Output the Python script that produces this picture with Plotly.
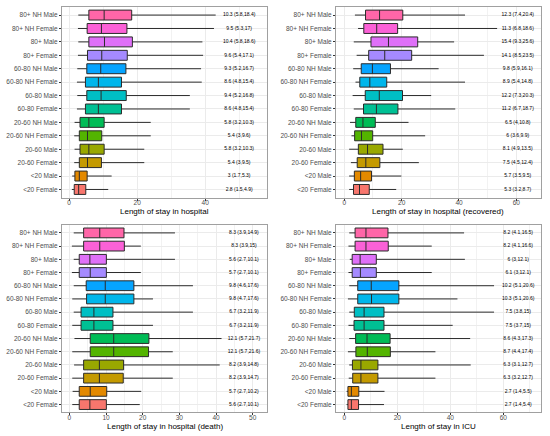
import plotly.graph_objects as go

# categories, bottom to top
groups = ["<20 Female", "<20 Male", "20-60 Female", "20-60 Male",
          "20-60 NH Female", "20-60 NH Male", "60-80 Female", "60-80 Male",
          "60-80 NH Female", "60-80 NH Male", "80+ Female", "80+ Male",
          "80+ NH Female", "80+ NH Male"]
colors = ["#F8766D", "#E38900", "#C49A00", "#99A800", "#53B400", "#00BC56",
          "#00C094", "#00BFC4", "#00B6EB", "#06A4FF", "#A58AFF", "#DF70F8",
          "#FB61D7", "#FF66A8"]

# length of stay in hospital
hosp_med = [2.8, 3, 5.4, 5.8, 5.4, 5.8, 8.6, 9.4, 8.6, 9.3, 9.6, 10.4, 9.5, 10.3]
hosp_q1 = [1.5, 1.7, 3, 3.2, 3, 3.2, 4.8, 5.2, 4.8, 5.2, 5.4, 5.8, 5.3, 5.8]
hosp_q3 = [4.9, 5.3, 9.5, 10.3, 9.6, 10.3, 15.4, 16.8, 15.4, 16.7, 17.1, 18.6, 17, 18.4]
hosp_lo = [0.8, 0.9, 1.5, 1.6, 1.5, 1.6, 2.3, 2.4, 2.3, 2.4, 2.6, 2.7, 2.6, 2.7]
hosp_hi = [11.5, 12.5, 22.1, 22.1, 24, 24, 35.5, 35.5, 39, 38.8, 39.4, 39.2, 42.6, 43.1]

# length of stay in hospital (recovered)
rec_med = [5.3, 5.7, 7.5, 8.1, 6, 6.5, 11.2, 12.2, 8.9, 9.8, 14.1, 15.4, 11.3, 12.3]
rec_q1 = [3.2, 3.5, 4.5, 4.9, 3.6, 4, 6.7, 7.3, 5.4, 5.9, 8.5, 9.3, 6.8, 7.4]
rec_q3 = [8.7, 9.5, 12.4, 13.5, 9.9, 10.8, 18.7, 20.3, 14.8, 16.1, 23.5, 25.6, 18.6, 20.4]
rec_lo = [1.7, 1.7, 2.3, 1.7, 2.5, 2.0, 3.3, 2.9, 3.9, 3.1, 4.3, 3.3, 4.8, 3.7]
rec_hi = [18.1, 19.9, 26, 20.4, 28.2, 22.4, 38.7, 30.3, 42.1, 32.9, 48.7, 38.3, 53.3, 42.1]

# length of stay in hospital (death)
dth_med = [5.6, 5.7, 8.2, 8.2, 12.1, 12.1, 6.7, 6.7, 9.8, 9.8, 5.7, 5.6, 8.3, 8.3]
dth_q1 = [2.7, 2.7, 3.9, 3.9, 5.7, 5.7, 3.2, 3.2, 4.7, 4.6, 2.7, 2.7, 3.9, 3.9]
dth_q3 = [10.1, 10.2, 14.7, 14.8, 21.6, 21.7, 11.9, 11.9, 17.6, 17.6, 10.1, 10.1, 15, 14.9]
dth_lo = [0.8, 0.9, 0.8, 1.3, 0.8, 1.4, 0.8, 1.2, 0.8, 1.2, 0.7, 1.2, 0.7, 1.2]
dth_hi = [19.2, 19.6, 28.2, 41, 28.2, 41.5, 22.8, 33.7, 22.8, 33.7, 19.5, 28.8, 19.5, 28.8]

# length of stay in ICU
icu_med = [2.7, 2.7, 6.3, 6.3, 8.7, 8.6, 7.5, 7.5, 10.3, 10.2, 6.1, 6, 8.2, 8.2]
icu_q1 = [1.4, 1.4, 3.2, 3.1, 4.4, 4.3, 3.7, 3.8, 5.1, 5.1, 3, 3, 4.1, 4.1]
icu_q3 = [5.4, 5.5, 12.7, 12.7, 17.4, 17.3, 15, 15, 20.6, 20.6, 12.1, 12.1, 16.6, 16.5]
icu_lo = [0.9, 0.9, 1.7, 1.9, 1.4, 1.9, 1.6, 1.9, 1.4, 1.9, 1.6, 2.1, 1.6, 1.9]
icu_hi = [15, 15.2, 34.4, 47.7, 34.4, 47.5, 40.9, 56.5, 42.7, 56.5, 33, 45.5, 33, 45.2]

panels = [
    dict(title="Length of stay in hospital", med=hosp_med, q1=hosp_q1, q3=hosp_q3,
         lo=hosp_lo, hi=hosp_hi, text_x=50, rng=[-2.1, 58.2], dtick=20,
         xdom=[0.1127, 0.4855], ydom=[0.547, 0.9839], title_y=0.5138),
    dict(title="Length of stay in hospital (recovered)", med=rec_med, q1=rec_q1, q3=rec_q3,
         lo=rec_lo, hi=rec_hi, text_x=60.5, rng=[-2.9, 68.6], dtick=20,
         xdom=[0.6109, 0.9836], ydom=[0.547, 0.9839], title_y=0.5138),
    dict(title="Length of stay in hospital (death)", med=dth_med, q1=dth_q1, q3=dth_q3,
         lo=dth_lo, hi=dth_hi, text_x=47.6, rng=[-2.0, 53.9], dtick=10,
         xdom=[0.1127, 0.4855], ydom=[0.0539, 0.484], title_y=0.0213),
    dict(title="Length of stay in ICU", med=icu_med, q1=icu_q1, q3=icu_q3,
         lo=icu_lo, hi=icu_hi, text_x=65.6, rng=[-3.1, 74.2], dtick=20,
         xdom=[0.6109, 0.9836], ydom=[0.0539, 0.484], title_y=0.0213),
]


def fmt(v):
    return "%g" % v


fig = go.Figure()
layout = {}
titles = []
for i, p in enumerate(panels):
    n = "" if i == 0 else str(i + 1)
    xa, ya = "x" + n, "y" + n
    for j, g in enumerate(groups):
        fig.add_trace(go.Box(
            y=[g], q1=[p["q1"][j]], median=[p["med"][j]], q3=[p["q3"][j]],
            lowerfence=[p["lo"][j]], upperfence=[p["hi"][j]],
            orientation="h", fillcolor=colors[j], width=0.74, whiskerwidth=0,
            line=dict(color="#2b2b2b", width=1), xaxis=xa, yaxis=ya,
            showlegend=False, hoverinfo="skip"))
    labels = ["%s (%s,%s)" % (fmt(m), fmt(a), fmt(b))
              for m, a, b in zip(p["med"], p["q1"], p["q3"])]
    fig.add_trace(go.Scatter(
        x=[p["text_x"]] * len(groups), y=groups, text=labels, mode="text",
        textfont=dict(size=5, color="black", family="Liberation Sans"),
        xaxis=xa, yaxis=ya, showlegend=False, hoverinfo="skip"))

    titles.append(dict(
        text=p["title"], xref="paper", yref="paper", showarrow=False,
        x=sum(p["xdom"]) / 2, y=p["title_y"], xanchor="center", yanchor="middle",
        font=dict(size=8, color="black")))

    layout["xaxis" + n] = dict(
        domain=p["xdom"], anchor=ya, range=p["rng"], dtick=p["dtick"],
        showgrid=True, gridcolor="#ebebeb", gridwidth=0.8,
        minor=dict(dtick=p["dtick"] / 2, showgrid=True, gridcolor="#f2f2f2", gridwidth=0.5),
        zeroline=False, showline=True, mirror=True, linecolor="#a0a0a0", linewidth=1,
        ticks="outside", ticklen=2, tickcolor="#333333", ticklabelstandoff=-3,
        tickfont=dict(size=6.5, color="#4d4d4d"))
    layout["yaxis" + n] = dict(
        domain=p["ydom"], anchor=xa, type="category",
        categoryorder="array", categoryarray=groups, range=[-0.6, 13.6],
        showgrid=True, gridcolor="#ebebeb", gridwidth=0.8,
        zeroline=False, showline=True, mirror=True, linecolor="#a0a0a0", linewidth=1,
        ticks="outside", ticklen=2, tickcolor="#333333",
        tickfont=dict(size=6.5, color="#4d4d4d"))

fig.update_layout(
    width=550, height=436, margin=dict(l=0, r=0, t=0, b=0),
    plot_bgcolor="white", paper_bgcolor="white",
    font=dict(family="Liberation Sans"), boxmode="overlay",
    annotations=titles, **layout)

# drop the default page margin so the figure sits at the window corner
fig.write_html("out.html", config={"displayModeBar": False},
               post_script="document.body.style.margin = '0';")
